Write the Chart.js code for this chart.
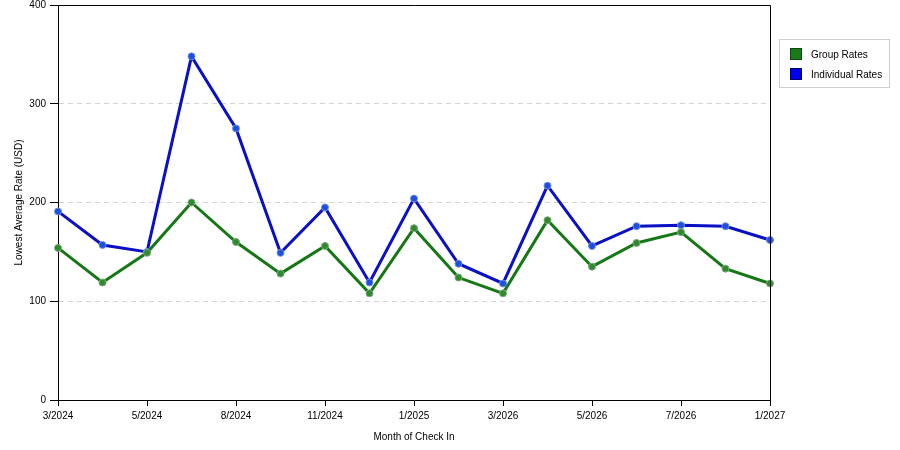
<!DOCTYPE html>
<html>
    <head>
        <meta charset="utf-8">
        <title>Lowest Average Rate by Month of Check In</title>
        <script src="https://cdn.jsdelivr.net/npm/chart.js@4.4.1/dist/chart.umd.min.js"></script>
        <style type="text/css">
            html, body {
                margin: 0;
                padding: 0;
                background: #fff;
            }
            #wrap {
                width: 900px;
                height: 450px;
                position: relative;
            }
        </style>
    </head>
    <body>
        <div id="wrap">
            <canvas id="rateChart"></canvas>
        </div>
        <script>
            // month of check in (only every second one gets a label on the axis)
            var months = ['3/2024', '4/2024', '5/2024', '7/2024', '8/2024', '10/2024', '11/2024', '12/2024',
                          '1/2025', '2/2025', '3/2026', '4/2026', '5/2026', '6/2026', '7/2026', '9/2026', '1/2027'];
            var groupRates = [154, 119, 149, 200, 160, 128, 156, 108, 174, 124, 108, 182, 135, 159, 170, 133, 118];
            var individualRates = [191, 157, 150, 348, 275, 149, 195, 119, 204, 138, 118, 217, 156, 176, 177, 176, 162];
            var yTicks = [0, 100, 200, 300, 400];

            var FONT = 'Liberation Sans, Arial, sans-serif';

            // frame on top and right of the plot, plus the boxed legend
            var framePlugin = {
                id: 'frame',
                afterDraw: function(chart) {
                    var ctx = chart.ctx;
                    var a = chart.chartArea;
                    ctx.save();
                    ctx.strokeStyle = '#000';
                    ctx.lineWidth = 1;
                    ctx.beginPath();
                    ctx.moveTo(a.left, a.top + 0.5);
                    ctx.lineTo(a.right + 0.5, a.top + 0.5);
                    ctx.lineTo(a.right + 0.5, a.bottom);
                    ctx.stroke();

                    // legend
                    var lx = 779, ly = 39;
                    ctx.strokeStyle = '#cfcfcf';
                    ctx.strokeRect(lx + 0.5, ly + 0.5, 110, 48);
                    ctx.font = '10px ' + FONT;
                    ctx.textBaseline = 'middle';
                    chart.data.datasets.forEach(function(ds, i) {
                        var y = ly + 9 + i * 20;
                        ctx.fillStyle = ds.legendColor;
                        ctx.fillRect(lx + 11, y, 12, 12);
                        ctx.strokeStyle = ds.legendEdge;
                        ctx.strokeRect(lx + 11.5, y + 0.5, 11, 11);
                        ctx.fillStyle = '#000';
                        ctx.fillText(ds.label, lx + 32, y + 7);
                    });
                    ctx.restore();
                }
            };

            var ctx = document.getElementById('rateChart').getContext('2d');
            var rateChart = new Chart(ctx, {
                type: 'line',
                data: {
                    labels: months,
                    datasets: [
                        {
                            label: 'Group Rates',
                            data: groupRates,
                            borderColor: '#157815',
                            borderWidth: 3,
                            pointRadius: 3.5,
                            pointBorderWidth: 1,
                            pointBackgroundColor: '#2f8a2f',
                            pointBorderColor: '#7aa87a',
                            legendColor: '#1a7a1a',
                            legendEdge: '#0c4a0c',
                            tension: 0
                        },
                        {
                            label: 'Individual Rates',
                            data: individualRates,
                            borderColor: '#0a10c4',
                            borderWidth: 3,
                            pointRadius: 3.5,
                            pointBorderWidth: 1,
                            pointBackgroundColor: '#1f4fdc',
                            pointBorderColor: '#6f8fe0',
                            legendColor: '#0000ee',
                            legendEdge: '#00006a',
                            tension: 0
                        }
                    ]
                },
                options: {
                    responsive: true,
                    maintainAspectRatio: false,
                    animation: false,
                    layout: {
                        padding: {left: 0, right: 130, top: 5, bottom: 0}
                    },
                    plugins: {
                        legend: {display: false},
                        tooltip: {enabled: false}
                    },
                    scales: {
                        x: {
                            type: 'category',
                            offset: false,
                            border: {display: true, color: '#000', width: 1},
                            grid: {
                                drawOnChartArea: false,
                                drawTicks: true,
                                tickLength: 6,
                                tickColor: function(c) {
                                    return c.index % 2 === 0 ? '#000' : 'rgba(0,0,0,0)';
                                }
                            },
                            ticks: {
                                autoSkip: false,
                                maxRotation: 0,
                                padding: 4,
                                color: '#000',
                                font: {family: FONT, size: 10},
                                callback: function(v, i) {
                                    return i % 2 === 0 ? months[i] : '';
                                }
                            },
                            title: {
                                display: true,
                                text: 'Month of Check In',
                                color: '#000',
                                font: {family: FONT, size: 10},
                                padding: {top: 0, bottom: 7}
                            },
                            afterFit: function(scale) {
                                scale.height = 50;
                            }
                        },
                        y: {
                            min: 0,
                            max: 400,
                            border: {display: true, color: '#000', width: 1, dash: [5, 4]},
                            grid: {
                                color: function(c) {
                                    var v = c.tick ? c.tick.value : 0;
                                    return (v === 0 || v === 400) ? 'rgba(0,0,0,0)' : '#d4d4d4';
                                },
                                tickColor: '#000',
                                tickLength: 8
                            },
                            afterBuildTicks: function(scale) {
                                scale.ticks = yTicks.map(function(v) { return {value: v}; });
                            },
                            ticks: {
                                padding: 4,
                                color: '#000',
                                font: {family: FONT, size: 10, lineHeight: 1}
                            },
                            title: {
                                display: true,
                                text: 'Lowest Average Rate (USD)',
                                color: '#000',
                                font: {family: FONT, size: 10},
                                padding: {top: 13, bottom: 0}
                            },
                            afterFit: function(scale) {
                                scale.width = 58;
                                scale.paddingTop = 0;
                                scale.paddingBottom = 0;
                            }
                        }
                    }
                },
                plugins: [framePlugin]
            });
        </script>
    </body>
</html>
